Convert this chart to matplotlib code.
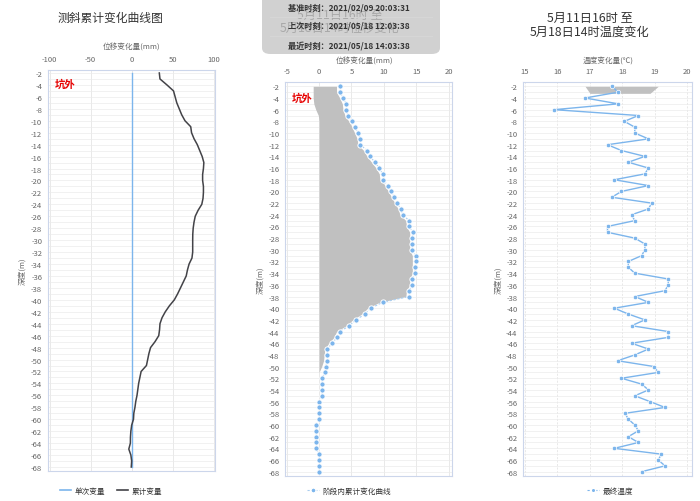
import matplotlib
matplotlib.use("Agg")
import matplotlib.pyplot as plt
import numpy as np
from matplotlib.lines import Line2D
from matplotlib.patches import FancyBboxPatch

plt.rcParams['font.family'] = ['Noto Sans CJK SC', 'DejaVu Sans']
plt.rcParams['axes.unicode_minus'] = False

# depth of each measuring point (m)
depth = list(range(-2, -69, -1))

# left: cumulative inclinometer displacement (mm)
single_change = [0.0] * 67
total_change = [
    33.7, 34.5, 43, 51, 53, 55, 58, 61, 65, 72,
    73, 76, 80, 83, 86, 88, 87.5, 86.5, 86.5, 87.5,
    87.5, 87, 85.5, 81, 77.5, 76, 75, 74.5, 74.4, 74.4,
    74.4, 73.5, 70, 68, 66.5, 63, 59.5, 56, 52, 46,
    41, 37, 34.5, 34, 33, 28.5, 23, 21, 19.5, 18,
    11.5, 10, 8.5, 7.5, 6.5, 5, 4, 2.6, 2.2, 0,
    -1, -1.5, -1.6, -3.5, -1, 0, -0.5,
]

# middle: stage cumulative change (mm)
stage_change = [
    3.2, 3.2, 3.75, 4.2, 4.2, 4.5, 5.1, 5.6, 6.0, 6.4,
    6.4, 7.4, 7.9, 8.6, 9.3, 9.8, 9.8, 10.7, 11.1, 11.6,
    12.1, 12.6, 12.9, 13.9, 13.9, 14.5, 14.4, 14.4, 14.4, 14.9,
    14.9, 14.8, 14.8, 14.4, 14.4, 13.9, 13.9, 9.8, 8.0, 7.1,
    5.7, 4.7, 3.2, 2.8, 2.0, 1.3, 1.3, 1.3, 1.0, 0.93,
    0.46, 0.46, 0.46, 0.46, 0.05, 0.05, 0.05, 0.05, -0.46, -0.46,
    -0.46, -0.46, -0.46, 0.05, 0.05, 0.05, 0.05,
]
# grey band in the middle panel (depth -2 .. -51)
band_depth = list(range(-2, -52, -1))
band_low = [-0.9, -0.9, -0.9, -0.8, -0.5, -0.1] + [0.0] * 44
band_high = [
    2.7, 2.7, 3.2, 3.6, 3.7, 4.0, 4.6, 5.1, 5.5, 5.9,
    6.0, 6.9, 7.4, 8.1, 8.8, 9.3, 9.4, 10.2, 10.7, 11.2,
    11.7, 12.2, 12.5, 13.4, 13.5, 14.0, 14.0, 14.0, 14.0, 14.4,
    14.4, 14.4, 14.4, 14.0, 14.0, 13.5, 13.4, 9.3, 7.5, 6.6,
    5.2, 4.2, 2.7, 2.3, 1.5, 0.9, 0.8, 0.7, 0.4, 0.0,
]

# right: final temperature (℃)
temperature = [
    17.67, 17.87, 16.85, 17.87, 15.9, 18.49, 18.06, 18.38, 18.38, 18.8,
    17.54, 17.97, 18.69, 18.18, 18.8, 18.69, 17.75, 18.8, 17.97, 17.67,
    18.9, 18.8, 18.28, 18.38, 17.54, 17.54, 18.38, 18.69, 18.69, 18.59,
    18.18, 18.18, 18.38, 19.41, 19.41, 19.31, 18.38, 18.8, 17.75, 18.18,
    18.69, 18.28, 19.41, 19.41, 18.28, 18.8, 18.38, 17.85, 18.98, 19.1,
    17.97, 18.59, 18.8, 18.38, 18.85, 19.31, 18.08, 18.18, 18.38, 18.49,
    18.18, 18.49, 17.75, 19.2, 19.1, 19.31, 18.59,
]
temp_band_depth = [-2, -3.2]
temp_band_low = [16.85, 17.0]
temp_band_high = [19.1, 18.85]

tip_rows = [
    "基准时刻：2021/02/09 20:03:31",
    "上次时刻：2021/05/18 12:03:38",
    "最近时刻：2021/05/18 14:03:38",
]

W, H = 700, 502
BLUE = '#7cb5ec'
GREY_TXT = '#666666'
FRAME = '#ccd6eb'

fig = plt.figure(figsize=(W / 100, H / 100), dpi=100)


def px_box(x0, x1, ytop, ybot):
    return [x0 / W, 1 - ybot / H, (x1 - x0) / W, (ybot - ytop) / H]


def style_axis(ax, xticks, ylim, dashed=False):
    ax.set_ylim(*ylim)
    ax.set_yticks(np.arange(-2, -69, -2))
    ax.set_yticks(np.arange(-2, -69, -1), minor=True)
    ax.set_xticks(xticks)
    ax.xaxis.tick_top()
    ax.tick_params(axis='both', which='both', length=0, labelsize=5.5,
                   labelcolor=GREY_TXT)
    ax.tick_params(axis='x', pad=5)
    ax.tick_params(axis='y', pad=4)
    ax.grid(axis='y', which='both', color='#ebebeb', lw=0.5)
    ax.grid(axis='x', which='major', color='#e0e0e0', lw=0.5,
            ls=(0, (3, 2)) if dashed else '-')
    ax.set_axisbelow(True)
    for s in ax.spines.values():
        s.set_color(FRAME)
        s.set_linewidth(0.8)
    ax.set_ylabel('深度(m)', fontsize=5.5, color=GREY_TXT, labelpad=3)


# ---------- left panel ----------
ax1 = fig.add_axes(px_box(47.7, 215, 71, 472))
ax1.plot(single_change, depth, color=BLUE, lw=1.0, zorder=3)
ax1.plot(total_change, depth, color='#434348', lw=1.1, zorder=4)
ax1.set_xlim(-102.4, 101.6)
style_axis(ax1, [-100, -50, 0, 50, 100], (-68.67, -1.5))
ax1.text(0.04, 0.965, '坑外', transform=ax1.transAxes, color='#e60000',
         fontsize=7.5, fontweight='bold', va='center', ha='left')
fig.text(131.7 / W, 1 - 48 / H, '位移变化量(mm)', ha='center', va='center',
         fontsize=5.5, color=GREY_TXT)
fig.text(110 / W, 1 - 18 / H, '测斜累计变化曲线图', ha='center', va='center',
         fontsize=8.5, color='#333333')
ax1.legend(handles=[Line2D([], [], color=BLUE, lw=1.2, label='单次变量'),
                    Line2D([], [], color='#434348', lw=1.2, label='累计变量')],
           loc='center', bbox_to_anchor=(111 / W, 1 - 492 / H),
           bbox_transform=fig.transFigure, ncol=2, frameon=False,
           fontsize=5.5, handlelength=1.4, columnspacing=1.6,
           handletextpad=0.5, labelcolor='#333333')

# ---------- middle panel ----------
ax2 = fig.add_axes(px_box(285, 452, 83, 477))
ax2.fill_betweenx(band_depth, band_low, band_high, color='#c0c0c0', lw=0,
                  zorder=2)
ax2.plot(stage_change, depth, color='#a9cdef', lw=0.8, ls=(0, (2, 1.5)),
         marker='o', ms=3.8, mfc=BLUE, mec='white', mew=0.7, zorder=4)
ax2.set_xlim(-5.25, 20.52)
style_axis(ax2, [-5, 0, 5, 10, 15, 20], (-68.74, -1.26))
ax2.text(0.04, 0.96, '坑外', transform=ax2.transAxes, color='#e60000',
         fontsize=7.5, fontweight='bold', va='center', ha='left', zorder=6)
fig.text(365 / W, 1 - 62 / H, '位移变化量(mm)', ha='center', va='center',
         fontsize=5.5, color=GREY_TXT)
# middle title, mostly hidden behind the tooltip box
fig.text(340 / W, 1 - 15.5 / H, '5月11日16时 至', ha='center', va='center',
         fontsize=8.8, color='#333333')
fig.text(340 / W, 1 - 28.5 / H, '5月18日14时位移变化', ha='center',
         va='center', fontsize=8.8, color='#333333')
ax2.legend(handles=[Line2D([], [], color='#a9cdef', lw=0.8, ls=(0, (2, 1.5)),
                           marker='o', ms=3.6, mfc=BLUE, mec='white',
                           label='阶段内累计变化曲线')],
           loc='center', bbox_to_anchor=(349 / W, 1 - 492 / H),
           bbox_transform=fig.transFigure, frameon=False, fontsize=5.5,
           handlelength=1.6, handletextpad=0.5, labelcolor='#333333')

# tooltip box over the middle title
tip = FancyBboxPatch((262 / W, 1 - 55 / H), 178 / W, 62 / H,
                     boxstyle='round,pad=0,rounding_size=0.012',
                     transform=fig.transFigure, facecolor='#c6c6c6',
                     edgecolor='none', alpha=0.8, zorder=10)
fig.patches.append(tip)
for yy in (18, 36.5):
    fig.lines.append(Line2D([270 / W, 432 / W], [1 - yy / H, 1 - yy / H],
                            transform=fig.transFigure, color='#d8d8d8',
                            lw=0.6, zorder=11))
for row, yy in zip(tip_rows, (7.5, 26.5, 45.5)):
    t = fig.text(349 / W, 1 - yy / H, row, ha='center', va='center',
                 fontsize=5.9, fontweight='bold', color='#333333')
    t.set_zorder(12)

# ---------- right panel ----------
ax3 = fig.add_axes(px_box(523, 692, 83, 477))
ax3.fill_betweenx(temp_band_depth, temp_band_low, temp_band_high,
                  color='#c0c0c0', lw=0, zorder=2)
ax3.plot(temperature, depth, color=BLUE, lw=1.0, marker='o', ms=3.2,
         mfc=BLUE, mec='white', mew=0.5, zorder=4)
ax3.set_xlim(14.94, 20.14)
style_axis(ax3, [15, 16, 17, 18, 19, 20], (-68.74, -1.26), dashed=True)
fig.text(608 / W, 1 - 62 / H, '温度变化量(℃)', ha='center', va='center',
         fontsize=5.5, color=GREY_TXT)
fig.text(590 / W, 1 - 18 / H, '5月11日16时 至', ha='center', va='center',
         fontsize=8.8, color='#333333')
fig.text(590 / W, 1 - 32 / H, '5月18日14时温度变化', ha='center',
         va='center', fontsize=8.8, color='#333333')
ax3.legend(handles=[Line2D([], [], color=BLUE, lw=0.8, ls=(0, (2, 1.5)),
                           marker='o', ms=3.2, mfc=BLUE, mec='white',
                           label='最终温度')],
           loc='center', bbox_to_anchor=(610 / W, 1 - 492 / H),
           bbox_transform=fig.transFigure, frameon=False, fontsize=5.5,
           handlelength=1.6, handletextpad=0.5, labelcolor='#333333')

fig.savefig('out.png', dpi=100)
